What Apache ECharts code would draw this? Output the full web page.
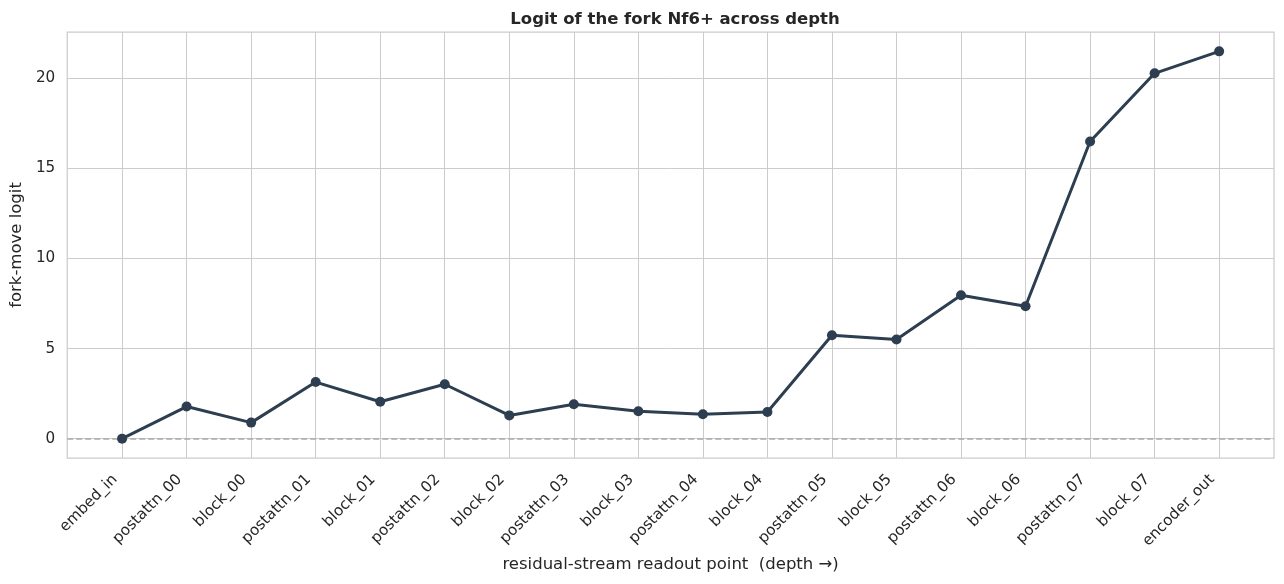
<!DOCTYPE html>
<html>
<head>
<meta charset="utf-8">
<script src="https://cdn.jsdelivr.net/npm/echarts@6/dist/echarts.min.js"></script>
<style>
html,body{margin:0;padding:0;background:#fff;}
#chart{width:1284px;height:584px;}
</style>
</head>
<body>
<div id="chart"></div>
<script>
const categories = ['embed_in','postattn_00','block_00','postattn_01','block_01','postattn_02','block_02','postattn_03','block_03','postattn_04','block_04','postattn_05','block_05','postattn_06','block_06','postattn_07','block_07','encoder_out'];
const logits = [0.0, 1.78, 0.89, 3.14, 2.05, 3.02, 1.29, 1.91, 1.52, 1.35, 1.48, 5.74, 5.5, 7.96, 7.35, 16.5, 20.28, 21.5];
const yTicks = [0, 5, 10, 15, 20];
const baseline = 0;

const FONT = 'DejaVu Sans';
const xIdx = categories.map((c, i) => i);
const xPad = (categories.length - 1) * 0.05;
const yMinData = Math.min(...logits), yMaxData = Math.max(...logits);
const yPad = (yMaxData - yMinData) * 0.05;

const chart = echarts.init(document.getElementById('chart'), null, {renderer: 'canvas'});
chart.setOption({
  backgroundColor: '#ffffff',
  animation: false,
  title: {
    text: 'Logit of the fork Nf6+ across depth',
    left: 670, textAlign: 'center', top: 6,
    textStyle: {fontFamily: FONT, fontSize: 16.5, fontWeight: 'bold', color: '#262626'}
  },
  grid: {left: 66, right: 10, top: 32, bottom: 126, show: true, borderColor: '#cccccc', borderWidth: 1.25, backgroundColor: 'transparent'},
  xAxis: {
    type: 'value',
    min: -xPad, max: categories.length - 1 + xPad,
    name: 'residual-stream readout point  (depth \u2192)',
    nameLocation: 'middle', nameGap: 97,
    nameTextStyle: {fontFamily: FONT, fontSize: 16.5, color: '#262626'},
    axisLine: {show: false},
    axisTick: {show: false, customValues: xIdx},
    axisLabel: {
      customValues: xIdx, rotate: 45, margin: 12, padding: [0, 10, 0, 0],
      fontFamily: FONT, fontSize: 15.2, color: '#262626',
      formatter: v => categories[Math.round(v)] || ''
    },
    splitLine: {show: true, lineStyle: {color: '#cccccc', width: 1}}
  },
  yAxis: {
    type: 'value',
    min: yMinData - yPad, max: yMaxData + yPad,
    name: 'fork-move logit',
    nameLocation: 'middle', nameGap: 38,
    nameTextStyle: {fontFamily: FONT, fontSize: 16.5, color: '#262626'},
    axisLine: {show: false},
    axisTick: {show: false, customValues: yTicks},
    axisLabel: {customValues: yTicks, margin: 12, fontFamily: FONT, fontSize: 15.2, color: '#262626'},
    splitLine: {show: true, lineStyle: {color: '#cccccc', width: 1}}
  },
  series: [{
    type: 'line',
    data: logits.map((v, i) => [i, v]),
    symbol: 'circle', symbolSize: 10,
    lineStyle: {color: '#2c3e50', width: 3},
    itemStyle: {color: '#2c3e50'},
    z: 5,
    markLine: {
      silent: true, symbol: 'none', label: {show: false},
      lineStyle: {color: '#aaaaaa', type: [6, 3], width: 1.5},
      data: [{yAxis: baseline}],
      z: 2
    }
  }]
});
</script>
</body>
</html>
